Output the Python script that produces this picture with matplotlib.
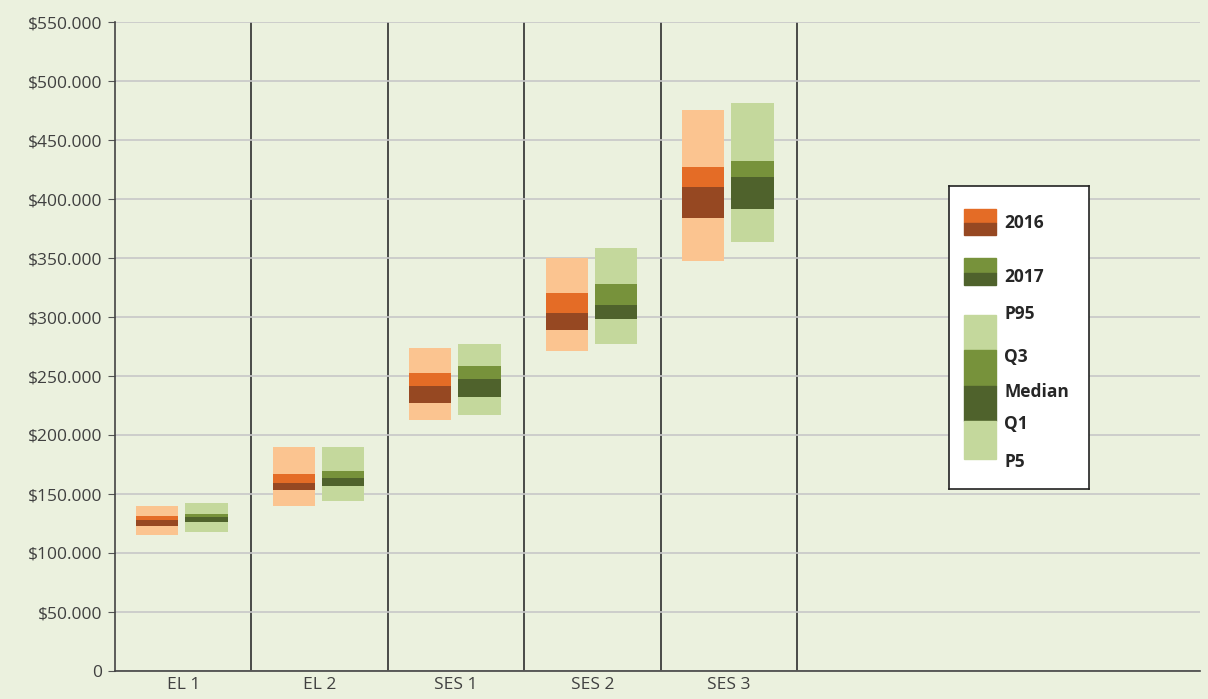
import matplotlib.pyplot as plt
from matplotlib.patches import Rectangle
from matplotlib.ticker import FuncFormatter
import numpy as np

categories = ['EL 1', 'EL 2', 'SES 1', 'SES 2', 'SES 3']

# 2016 percentiles
p5_2016 = [115300, 140000, 212700, 271200, 347800]
q1_2016 = [122900, 153400, 226800, 289000, 384200]
med_2016 = [128000, 159300, 241500, 303600, 410000]
q3_2016 = [131400, 167000, 252800, 320000, 426900]
p95_2016 = [139800, 189800, 273500, 350300, 475500]

# 2017 percentiles
p5_2017 = [117500, 143800, 217000, 276900, 363900]
q1_2017 = [126300, 156800, 232500, 298000, 391300]
med_2017 = [130800, 163600, 247200, 309800, 418900]
q3_2017 = [133000, 169500, 258700, 327600, 432500]
p95_2017 = [142100, 189800, 276900, 358200, 481200]

bg = '#EBF1DE'
colors_2016 = {'light': '#FBC490', 'mid': '#E46C26', 'dark': '#964822'}
colors_2017 = {'light': '#C4D89C', 'mid': '#77923B', 'dark': '#4F622C'}

plt.rcParams['font.family'] = ['Open Sans', 'DejaVu Sans']

fig = plt.figure(figsize=(12.08, 6.99), dpi=100, facecolor=bg)
ax = fig.add_axes([115/1208, 28/699, 1085/1208, 649/699], facecolor=bg)

x = np.arange(len(categories))
w = 0.31

def draw_box(xpos, p5, q1, med, q3, p95, c):
    p5, q1, med, q3, p95 = map(np.array, (p5, q1, med, q3, p95))
    ax.bar(xpos, p95 - p5, w, bottom=p5, color=c['light'], zorder=2)
    ax.bar(xpos, med - q1, w, bottom=q1, color=c['dark'], zorder=3)
    ax.bar(xpos, q3 - med, w, bottom=med, color=c['mid'], zorder=3)

draw_box(x + 0.31, p5_2016, q1_2016, med_2016, q3_2016, p95_2016, colors_2016)
draw_box(x + 0.67, p5_2017, q1_2017, med_2017, q3_2017, p95_2017, colors_2017)

ax.set_xlim(0, 7.95)
ax.set_ylim(0, 550000)
ax.set_yticks(np.arange(0, 550001, 50000))
ax.yaxis.set_major_formatter(FuncFormatter(
    lambda v, p: '0' if v == 0 else '$' + f'{int(v):,}'.replace(',', '.')))
ax.grid(axis='y', color='#C8C8C8', linewidth=1.2, zorder=0)
for i in range(1, len(categories) + 1):
    ax.axvline(i, color='#2E2E2E', linewidth=1.2, zorder=1)

ax.set_xticks(x + 0.5)
ax.set_xticklabels(categories)
ax.tick_params(axis='x', length=0, pad=4, labelsize=12.5, labelcolor='#404040')
ax.tick_params(axis='y', length=5, color='#555555', pad=4, labelsize=12.5, labelcolor='#404040')
for s in ['top', 'right']:
    ax.spines[s].set_visible(False)
for s in ['left', 'bottom']:
    ax.spines[s].set_color('#444444')
    ax.spines[s].set_linewidth(1.2)

# legend panel
lg = fig.add_axes([949/1208, (699-489)/699, 140/1208, 303/699])
lg.set_xlim(0, 140)
lg.set_ylim(303, 0)
lg.set_xticks([])
lg.set_yticks([])
lg.set_facecolor('white')
for s in lg.spines.values():
    s.set_color('#222222')
    s.set_linewidth(1.2)

def swatch(y0, y1, color):
    lg.add_patch(Rectangle((15, y0), 32, y1 - y0, color=color))

swatch(23, 37, colors_2016['mid'])
swatch(37, 49, colors_2016['dark'])
swatch(72, 87, colors_2017['mid'])
swatch(87, 99, colors_2017['dark'])
swatch(129, 164, colors_2017['light'])
swatch(164, 200, colors_2017['mid'])
swatch(200, 235, colors_2017['dark'])
swatch(235, 273, colors_2017['light'])

labels = [('2016', 37), ('2017', 91), ('P95', 128), ('Q3', 171),
          ('Median', 206), ('Q1', 238), ('P5', 276)]
for txt, yy in labels:
    lg.text(55, yy, txt, fontsize=12.5, fontweight='bold', color='#262626', va='center')

fig.savefig('out.png', dpi=100, facecolor=bg)
